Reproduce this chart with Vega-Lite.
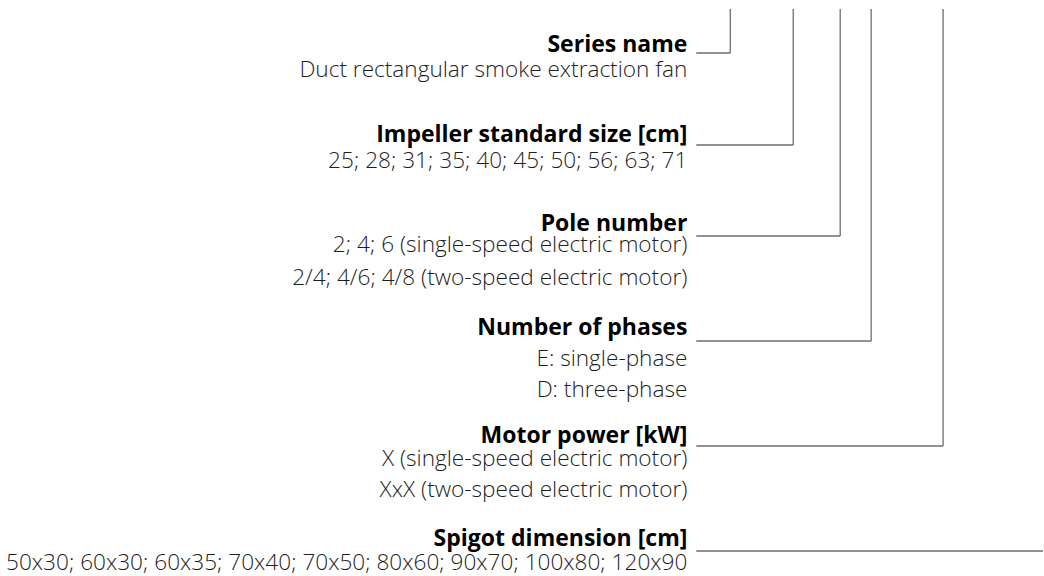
{
  "$schema": "https://vega.github.io/schema/vega-lite/v6.json",
  "width": 1044,
  "height": 576,
  "autosize": {"type": "fit", "contains": "padding"},
  "padding": 0,
  "background": "white",
  "config": {"view": {"stroke": null}},
  "datasets": {
    "labels": [
      {"x": 688, "y": 52, "label": "Series name", "kind": "head"},
      {"x": 688, "y": 77, "label": "Duct rectangular smoke extraction fan", "kind": "sub"},
      {"x": 688, "y": 142, "label": "Impeller standard size [cm]", "kind": "head"},
      {"x": 688, "y": 168, "label": "25; 28; 31; 35; 40; 45; 50; 56; 63; 71", "kind": "sub"},
      {"x": 688, "y": 231, "label": "Pole number", "kind": "head"},
      {"x": 688, "y": 252, "label": "2; 4; 6 (single-speed electric motor)", "kind": "sub"},
      {"x": 688, "y": 285, "label": "2/4; 4/6; 4/8 (two-speed electric motor)", "kind": "sub"},
      {"x": 688, "y": 335, "label": "Number of phases", "kind": "head"},
      {"x": 688, "y": 366, "label": "E: single-phase", "kind": "sub"},
      {"x": 688, "y": 397, "label": "D: three-phase", "kind": "sub"},
      {"x": 688, "y": 443, "label": "Motor power [kW]", "kind": "head"},
      {"x": 688, "y": 466, "label": "X (single-speed electric motor)", "kind": "sub"},
      {"x": 688, "y": 497, "label": "XxX (two-speed electric motor)", "kind": "sub"},
      {"x": 688, "y": 546, "label": "Spigot dimension [cm]", "kind": "head"},
      {"x": 688, "y": 570, "label": "50x30; 60x30; 60x35; 70x40; 70x50; 80x60; 90x70; 100x80; 120x90", "kind": "sub"}
    ],
    "segments": [
      {"x": 731, "y": 9, "x2": 731, "y2": 53},
      {"x": 697, "y": 53, "x2": 731, "y2": 53},
      {"x": 794, "y": 9, "x2": 794, "y2": 145},
      {"x": 697, "y": 145, "x2": 794, "y2": 145},
      {"x": 841, "y": 9, "x2": 841, "y2": 236},
      {"x": 697, "y": 236, "x2": 841, "y2": 236},
      {"x": 872, "y": 9, "x2": 872, "y2": 341},
      {"x": 697, "y": 341, "x2": 872, "y2": 341},
      {"x": 944, "y": 9, "x2": 944, "y2": 446},
      {"x": 697, "y": 446, "x2": 944, "y2": 446},
      {"x": 697, "y": 551, "x2": 1044, "y2": 551}
    ]
  },
  "layer": [
    {
      "data": {"name": "segments"},
      "mark": {"type": "rule", "color": "#6e6e6e", "strokeWidth": 1.3},
      "encoding": {
        "x": {"field": "x", "type": "quantitative", "scale": {"domain": [0, 1044], "nice": false, "zero": false}, "axis": null},
        "y": {"field": "y", "type": "quantitative", "scale": {"domain": [0, 576], "nice": false, "zero": false, "reverse": true}, "axis": null},
        "x2": {"field": "x2"},
        "y2": {"field": "y2"}
      }
    },
    {
      "data": {"name": "labels"},
      "transform": [{"filter": "datum.kind === 'head'"}],
      "mark": {"type": "text", "align": "right", "baseline": "alphabetic", "font": "Open Sans", "fontWeight": "bold", "fontSize": 23, "color": "#000000"},
      "encoding": {
        "x": {"field": "x", "type": "quantitative", "scale": {"domain": [0, 1044], "nice": false, "zero": false}, "axis": null},
        "y": {"field": "y", "type": "quantitative", "scale": {"domain": [0, 576], "nice": false, "zero": false, "reverse": true}, "axis": null},
        "text": {"field": "label"}
      }
    },
    {
      "data": {"name": "labels"},
      "transform": [{"filter": "datum.kind === 'sub'"}],
      "mark": {"type": "text", "align": "right", "baseline": "alphabetic", "font": "Open Sans", "fontWeight": 300, "fontSize": 22.6, "color": "#1e1e1e"},
      "encoding": {
        "x": {"field": "x", "type": "quantitative", "scale": {"domain": [0, 1044], "nice": false, "zero": false}, "axis": null},
        "y": {"field": "y", "type": "quantitative", "scale": {"domain": [0, 576], "nice": false, "zero": false, "reverse": true}, "axis": null},
        "text": {"field": "label"}
      }
    }
  ]
}
